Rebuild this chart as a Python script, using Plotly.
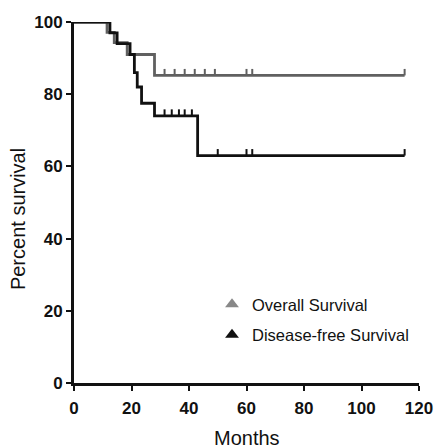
import plotly.graph_objects as go

# Kaplan-Meier step data (months, percent survival)
os_times = [0, 11.5, 14, 18.5, 28, 115]
os_values = [100, 97.1, 94.3, 91.0, 85.2, 85.2]
dfs_times = [0, 12.5, 15, 19.5, 21, 22, 23.5, 28, 43, 115]
dfs_values = [100, 97.0, 94.0, 91.0, 86.0, 82.0, 77.5, 74.0, 63.0, 63.0]

# censored observations
os_censor_t = [10, 31.5, 35, 38.5, 42, 45.5, 49, 60, 62, 115]
os_censor_v = [100, 85.2, 85.2, 85.2, 85.2, 85.2, 85.2, 85.2, 85.2, 85.2]
dfs_censor_t = [31.5, 34, 36.5, 38.5, 41, 50, 60, 62, 115]
dfs_censor_v = [74.0, 74.0, 74.0, 74.0, 74.0, 63.0, 63.0, 63.0, 63.0]

x_ticks = [0, 20, 40, 60, 80, 100, 120]
y_ticks = [0, 20, 40, 60, 80, 100]

OS_COLOR = "#606060"
DFS_COLOR = "#111111"
FONT = "Liberation Sans, Arial, sans-serif"

fig = go.Figure()

for t, v, c in [(os_times, os_values, OS_COLOR), (dfs_times, dfs_values, DFS_COLOR)]:
    fig.add_trace(go.Scatter(x=t, y=v, mode="lines", line=dict(color=c, width=2.8, shape="hv"),
                             showlegend=False, hoverinfo="skip"))

for t, v, c in [(os_censor_t, os_censor_v, OS_COLOR), (dfs_censor_t, dfs_censor_v, DFS_COLOR)]:
    fig.add_trace(go.Scatter(x=t, y=v, mode="markers", marker=dict(size=1, color=c, opacity=0),
                             error_y=dict(type="constant", value=1.8, symmetric=False, valueminus=0,
                                          width=0, thickness=2, color=c),
                             showlegend=False, hoverinfo="skip"))

# legend entries
fig.add_trace(go.Scatter(x=[None], y=[None], mode="markers", name="Overall Survival", legendgroup="a",
                         marker=dict(symbol="triangle-up", size=9, color="#888888")))
fig.add_trace(go.Scatter(x=[None], y=[None], mode="markers", name="Disease-free Survival", legendgroup="b",
                         marker=dict(symbol="triangle-up", size=9, color=DFS_COLOR)))

fig.update_layout(
    width=436, height=448,
    margin=dict(l=74, r=17, t=22, b=65, autoexpand=False),
    paper_bgcolor="white", plot_bgcolor="white",
    font=dict(family=FONT, color="#111111"),
    legend=dict(x=0.40, y=0.266, xanchor="left", yanchor="top", bgcolor="rgba(0,0,0,0)",
                font=dict(family=FONT, size=16.5, color="#111111"),
                itemwidth=30, tracegroupgap=6, itemsizing="constant"),
    xaxis=dict(range=[0, 120], tickvals=x_ticks, ticktext=[str(v) for v in x_ticks], automargin=False,
               showgrid=False, zeroline=False, showline=True, linecolor="#111111", linewidth=3,
               ticks="outside", ticklen=5, tickwidth=2, tickcolor="#111111", ticklabelstandoff=3,
               tickfont=dict(family=FONT, size=17, color="#111111", weight="bold")),
    yaxis=dict(range=[0, 100], tickvals=y_ticks, ticktext=[str(v) for v in y_ticks], automargin=False,
               showgrid=False, zeroline=False, showline=True, linecolor="#111111", linewidth=3,
               ticks="outside", ticklen=5, tickwidth=2, tickcolor="#111111",
               tickfont=dict(family=FONT, size=17, color="#111111", weight="bold")),
    annotations=[
        dict(text="Months", xref="paper", yref="paper", x=0.5, y=0, xanchor="center", yanchor="middle",
             yshift=-55, showarrow=False, font=dict(family=FONT, size=20, color="#111111")),
        dict(text="Percent survival", xref="paper", yref="paper", x=0, y=0.454, xanchor="center",
             yanchor="middle", xshift=-56, textangle=-90, showarrow=False,
             font=dict(family=FONT, size=20, color="#111111")),
    ],
)

fig.write_html("out.html", config={"displayModeBar": False},
               post_script="document.body.style.margin='0';document.body.style.overflow='hidden';")
